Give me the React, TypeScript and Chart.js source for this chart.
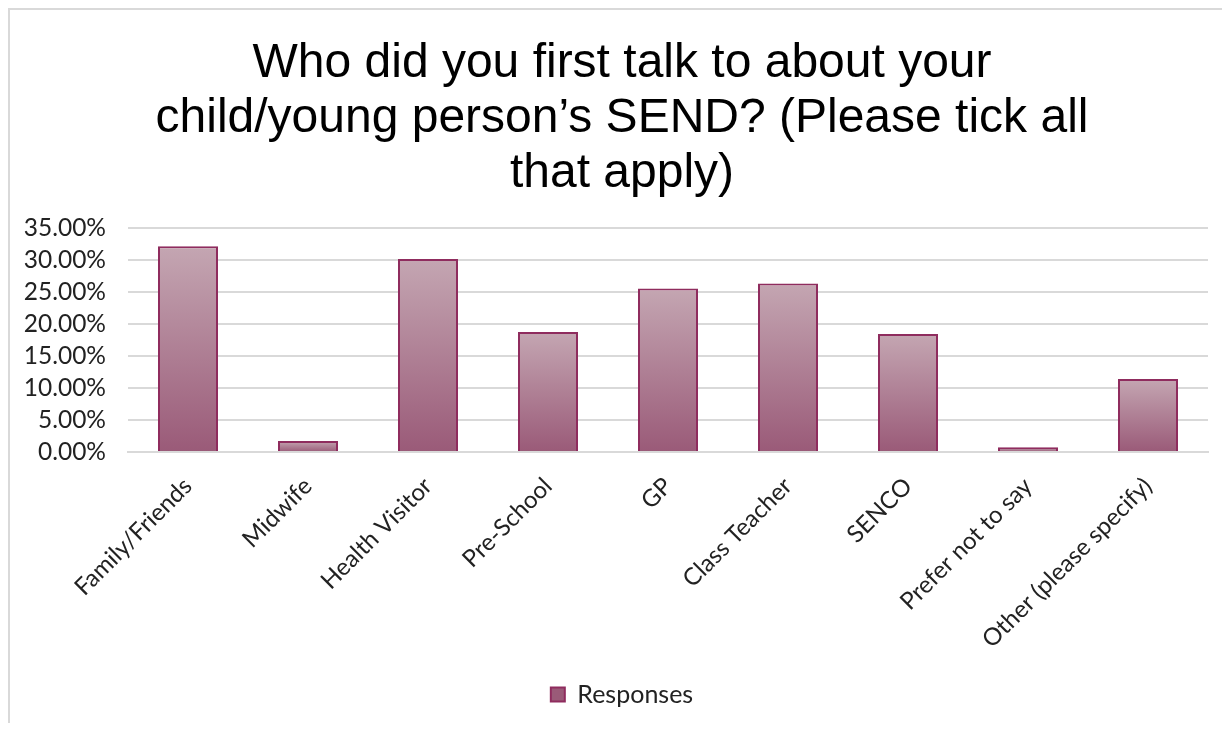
import React, { useEffect, useRef } from "react";
import { Chart, registerables } from "chart.js";

Chart.register(...registerables);

const titleLines = [
  "Who did you first talk to about your",
  "child/young person\u2019s SEND? (Please tick all",
  "that apply)",
];

const categories = [
  "Family/Friends",
  "Midwife",
  "Health Visitor",
  "Pre-School",
  "GP",
  "Class Teacher",
  "SENCO",
  "Prefer not to say",
  "Other (please specify)",
];

const responses = [0.321, 0.017, 0.301, 0.187, 0.255, 0.263, 0.184, 0.0075, 0.114];

const seriesLabel = "Responses";

const TICK_FONT = "Lato, 'Noto Sans', sans-serif";

// let the y-axis tick labels use the space left of the axis box (avoids label clipping)
const widenYLabelArea = {
  id: "widenYLabelArea",
  afterLayout(chart: any) {
    const y = chart.scales.y;
    if (y) y.left = 0;
  },
};

export default function App() {
  const canvasRef = useRef<HTMLCanvasElement | null>(null);

  useEffect(() => {
    const canvas = canvasRef.current;
    if (!canvas) return;
    const chart = new Chart(canvas, {
      type: "bar",
      data: {
        labels: categories,
        datasets: [
          {
            label: seriesLabel,
            data: responses,
            backgroundColor: (ctx: any) => {
              const c = ctx.chart;
              const y = c.scales && c.scales.y;
              if (ctx.type !== "data" || !y) return "#b48a9c";
              const top = y.getPixelForValue(ctx.raw);
              const bottom = y.getPixelForValue(0);
              if (!isFinite(top) || !isFinite(bottom) || top === bottom) return "#b48a9c";
              const g = c.ctx.createLinearGradient(0, top, 0, bottom);
              g.addColorStop(0, "#c4a6b2");
              g.addColorStop(1, "#9a5a78");
              return g;
            },
            borderColor: "#8f2c5e",
            borderWidth: 2,
            barPercentage: 0.5,
            categoryPercentage: 1,
          },
        ],
      },
      plugins: [widenYLabelArea],
      options: {
        animation: false,
        responsive: false,
        maintainAspectRatio: false,
        layout: { padding: { left: 26, right: 14, top: 0, bottom: 6 } },
        plugins: {
          title: {
            display: true,
            text: titleLines,
            color: "#000000",
            font: { family: "'Liberation Sans', Arial, sans-serif", size: 48, weight: "normal", lineHeight: 1.15 },
            padding: { top: 26, bottom: 26 },
          },
          legend: {
            display: true,
            position: "bottom",
            labels: {
              color: "#222222",
              font: { family: TICK_FONT, size: 25 },
              boxWidth: 14,
              boxHeight: 14,
            },
          },
          tooltip: { enabled: false },
        },
        scales: {
          x: {
            grid: { display: false },
            border: { display: true, color: "#d9d9d9", width: 2 },
            ticks: {
              color: "#222222",
              font: { family: TICK_FONT, size: 24 },
              minRotation: 45,
              maxRotation: 45,
              padding: 12,
              autoSkip: false,
            },
            afterFit: (scale: any) => {
              scale.height = 220;
            },
          },
          y: {
            min: 0,
            max: 0.35,
            border: { display: false },
            grid: { color: "#d9d9d9", lineWidth: 2, drawTicks: false },
            ticks: {
              stepSize: 0.05,
              autoSkip: false,
              color: "#222222",
              font: { family: TICK_FONT, size: 24.5, lineHeight: 1 },
              padding: 22,
              callback: (v: any) => (Number(v) * 100).toFixed(2) + "%",
            },
            afterFit: (scale: any) => {
              scale.width = 92;
            },
          },
        },
      },
    });
    return () => chart.destroy();
  }, []);

  return (
    <div
      style={{
        width: 1214,
        height: 715,
        boxSizing: "border-box",
        borderTop: "2px solid #d9d9d9",
        borderLeft: "2px solid #d9d9d9",
        background: "#ffffff",
        overflow: "hidden",
      }}
    >
      <canvas ref={canvasRef} width={1212} height={713} style={{ display: "block" }} />
    </div>
  );
}
